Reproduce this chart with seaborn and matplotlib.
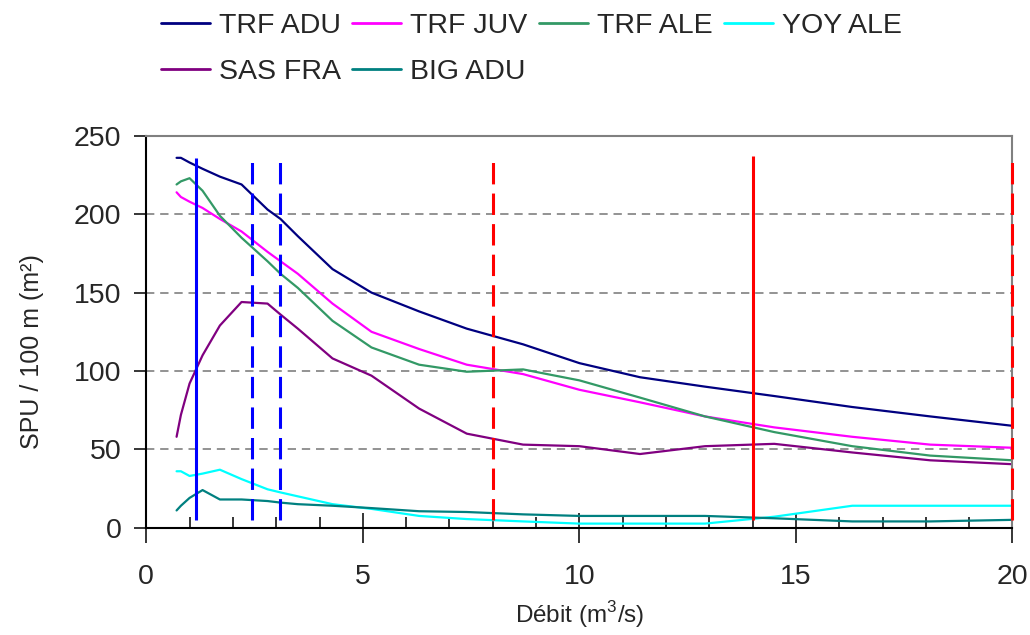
import seaborn as sns
import pandas as pd
import matplotlib
matplotlib.use('Agg')
from matplotlib import pyplot as plt
from matplotlib.ticker import MultipleLocator

# debits (m3/s)
debit = [0.7, 0.8, 1.0, 1.3, 1.7, 2.2, 2.8, 3.1, 3.5, 4.3, 5.2, 6.3, 7.4, 8.7, 10.0,
         11.4, 12.9, 14.5, 16.3, 18.1, 20.0]

trf_adu = [236, 236, 233, 229, 224, 219, 203, 197, 186, 165, 150, 138, 127, 117, 105,
           96, 90, 84, 77, 71, 65]
trf_juv = [214, 211, 208, 204, 197, 189, 176, 170, 162, 143, 125, 114, 104, 98, 88,
           80, 71, 64, 58, 53, 51]
trf_ale = [219, 221, 223, 215, 199, 185, 170, 162, 153, 132, 115, 104, 99.5, 101, 94,
           83, 71, 61, 52, 46, 43]
yoy_ale = [36, 36, 33, 34.5, 37, 31, 24.5, 22.5, 20, 15, 12, 7.5, 5.5, 4, 2.6,
           2.6, 2.6, 7, 14, 14, 14]
sas_fra = [58, 72, 92, 110, 129, 144, 143, 136, 127, 108, 97, 76, 60, 53, 52,
           47, 52, 53.5, 48, 43, 40.5]
big_adu = [11, 14, 19, 24, 18, 18, 17, 16, 15, 14, 12.5, 10.5, 10, 8.5, 7.5,
           7.5, 7.5, 6, 4, 4, 5]

especes = ['TRF ADU', 'TRF JUV', 'TRF ALE', 'YOY ALE', 'SAS FRA', 'BIG ADU']
couleurs = ['#000080', '#FF00FF', '#339966', '#00FFFF', '#800080', '#008080']

# debits de reference (lignes verticales)
q_bleu_plein = [1.15]
q_bleu_tiret = [2.45, 3.08]
q_rouge_plein = [14]
q_rouge_tiret = [8, 20]

series = [trf_adu, trf_juv, trf_ale, yoy_ale, sas_fra, big_adu]
df = pd.concat([pd.DataFrame({'Debit': debit, 'SPU': s, 'Espece': e})
                for s, e in zip(series, especes)])

sns.set_style('white')
plt.rcParams['font.family'] = ['Liberation Sans', 'DejaVu Sans']
plt.rcParams['mathtext.fontset'] = 'custom'
plt.rcParams['mathtext.rm'] = 'Liberation Sans'

fig = plt.figure(figsize=(10.3, 6.35), dpi=100)
ax = fig.add_axes([0.142, 0.169, 0.841, 0.617])

for y in [50, 100, 150, 200]:
    ax.axhline(y, color='#808080', lw=1.2, dashes=(5, 3.5), zorder=0)

sns.lineplot(data=df, x='Debit', y='SPU', hue='Espece', hue_order=especes,
             palette=couleurs, lw=1.6, ax=ax, sort=False, estimator=None)

ymin, ymax = 5, 236
ax.vlines(q_bleu_plein, ymin, ymax, color='#0000FF', lw=2.2)
ax.vlines(q_bleu_tiret, ymin, ymax, color='#0000FF', lw=2.2, linestyles=(0, (7, 3)))
ax.vlines(q_rouge_plein, ymin, ymax + 1, color='#FF0000', lw=2.2)
ax.vlines(q_rouge_tiret, ymin, ymax, color='#FF0000', lw=2.2, linestyles=(0, (7, 3)),
          clip_on=False, zorder=5)

ax.set_xlim(0, 20)
ax.set_ylim(0, 250)
ax.xaxis.set_major_locator(MultipleLocator(5))
ax.xaxis.set_minor_locator(MultipleLocator(1))
ax.yaxis.set_major_locator(MultipleLocator(50))
ax.tick_params(axis='x', which='major', direction='inout', length=22, width=1.3,
               labelsize=20.5, pad=15)
ax.tick_params(axis='x', which='minor', direction='in', length=8, width=1.3)
ax.tick_params(axis='y', which='major', direction='out', length=9, width=1.3,
               labelsize=20.5, pad=9)
ax.tick_params(bottom=True, left=True, which='both')

for s in ['left', 'bottom']:
    ax.spines[s].set_color('black')
    ax.spines[s].set_linewidth(1.5)
for s in ['top', 'right']:
    ax.spines[s].set_color('#808080')
    ax.spines[s].set_linewidth(1.5)

ax.set_xlabel('Débit (m$^{3}$/s)', fontsize=17.5, labelpad=7)
ax.set_ylabel('SPU / 100 m (m²)', fontsize=18)
ax.yaxis.set_label_coords(-0.118, 0.45)

handles, labels = ax.get_legend_handles_labels()
ax.get_legend().remove()
ordre = [0, 4, 1, 5, 2, 3]
leg = fig.legend([handles[i] for i in ordre], [labels[i] for i in ordre],
                 loc='upper left', bbox_to_anchor=(0.145, 0.997), borderaxespad=0,
                 ncol=4, frameon=False, fontsize=20.5, handlelength=1.72,
                 handletextpad=0.32, columnspacing=0.4, labelspacing=0.7)
for h in leg.get_lines():
    h.set_linewidth(2)

fig.savefig('out.png', dpi=100)
